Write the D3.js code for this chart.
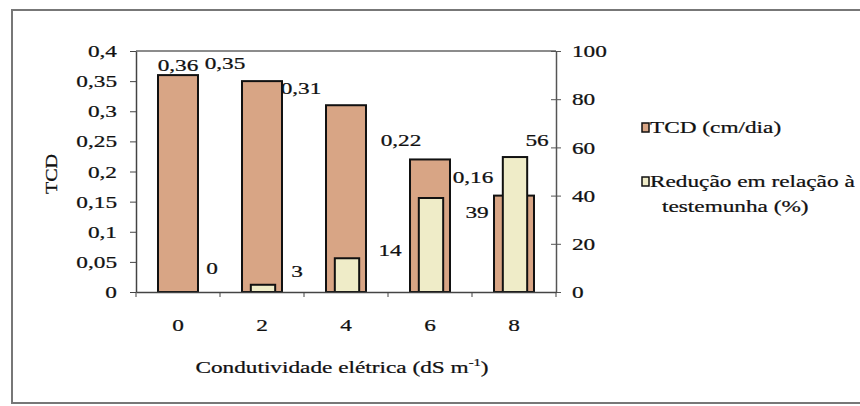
<!DOCTYPE html>
<html><head><meta charset="utf-8">
<script src="https://cdn.jsdelivr.net/npm/d3@7"></script>
<style>body{margin:0;background:#fff}svg{display:block}</style>
</head><body><svg id="c" width="860" height="406"></svg>
<script>
const categories = ["0","2","4","6","8"];
const tcd = [0.36,0.35,0.31,0.22,0.16];
const reducao = [0,3,14,39,56];
const leftTicks = [0,0.05,0.1,0.15,0.2,0.25,0.3,0.35,0.4];
const rightTicks = [0,20,40,60,80,100];
const seriesNames = ["TCD (cm/dia)", "Redução em relação à", "testemunha (%)"];
const xTitle = "Condutividade elétrica (dS m";

// layout constants (label offsets relative to band centre / bar top)
const tcdLabelOff = [[0,-4],[-37,-12],[-45,-11],[-29,-13],[-41,-13]];
const redLabelOff = [[33,-18],[34,-8],[43,-2],[46,20],[22,-11]];

const FONT = "'Liberation Serif'";
const SX = 1.33, FS = 17.5;
const svg = d3.select("#c");
const L = 136, R = 556, T = 51, B = 292;
const fmt = v => d3.format("")(v).replace(".", ",");

svg.append("rect").attr("x",12).attr("y",10).attr("width",860).attr("height",393)
  .attr("fill","#fff").attr("stroke","#777").attr("stroke-width",2);

const x = d3.scaleBand().domain(categories).range([L,R]).padding(0);
const yL = d3.scaleLinear().domain([0,0.4]).range([B,T]);
const yR = d3.scaleLinear().domain([0,100]).range([B,T]);
const bw = x.bandwidth();
const wT = bw*0.476, wR = bw*0.29;

function styleText(sel) {
  return sel.style("font-family", FONT).style("font-size", FS + "px").style("fill", "#111")
    .style("stroke", "#111").style("stroke-width", "0.25px");
}
function txt(px, py, s, anchor) {
  const g = svg.append("g").attr("transform", `translate(${px},${py}) scale(${SX},1)`);
  return styleText(g.append("text").attr("text-anchor", anchor||"middle")).text(s);
}

// plot top line
svg.append("line").attr("x1",L).attr("x2",R).attr("y1",T).attr("y2",T).attr("stroke","#666").attr("stroke-width",1.5);

// bars
svg.selectAll(".bt").data(categories).join("rect")
  .attr("x", c => x(c) + (bw-wT)/2).attr("width", wT)
  .attr("y", (c,i) => yL(tcd[i])).attr("height", (c,i) => B - yL(tcd[i]))
  .attr("fill","#d8a585").attr("stroke","#111").attr("stroke-width",2);
svg.selectAll(".br").data(categories).join("rect")
  .attr("x", c => x(c) + (bw-wR)/2 + 1).attr("width", wR)
  .attr("y", (c,i) => yR(reducao[i])).attr("height", (c,i) => B - yR(reducao[i]))
  .attr("fill","#efecc8").attr("stroke","#111").attr("stroke-width",2);

// left axis
const gl = svg.append("g").attr("transform",`translate(${L},0)`)
  .call(d3.axisLeft(yL).tickValues(leftTicks).tickSize(6).tickSizeOuter(0).tickFormat(fmt));
gl.select(".domain").attr("stroke","#444").attr("stroke-width",1.5);
gl.selectAll("line").attr("stroke","#444");
styleText(gl.selectAll("text").attr("x", -19/SX).attr("transform",`scale(${SX},1)`));

// right axis (cross ticks)
const gr = svg.append("g").attr("transform",`translate(${R},0)`)
  .call(d3.axisRight(yR).tickValues(rightTicks).tickSize(5).tickSizeOuter(0));
gr.select(".domain").attr("stroke","#555").attr("stroke-width",1.5);
gr.selectAll("line").attr("stroke","#555").attr("x1",-5);
styleText(gr.selectAll("text").attr("x", 16/SX).attr("transform",`scale(${SX},1)`));

// bottom axis: labels at centres, ticks at band boundaries
const gb = svg.append("g").attr("transform",`translate(0,${B})`)
  .call(d3.axisBottom(x).tickSize(0).tickPadding(0));
gb.select(".domain").attr("stroke","#444").attr("stroke-width",1.5);
styleText(gb.selectAll("text").attr("y",0).attr("dy",0).attr("transform",`translate(0,39) scale(${SX},1)`));
const bounds = categories.map(c => x(c)).concat([x(categories[categories.length-1]) + bw]);
gb.selectAll(".bt").data(bounds).join("line").attr("x1",d=>d).attr("x2",d=>d)
  .attr("y1",0).attr("y2",5).attr("stroke","#444");

// data labels
categories.forEach((c,i) => {
  const cx = x(c) + bw/2;
  txt(cx + tcdLabelOff[i][0], yL(tcd[i]) + tcdLabelOff[i][1], fmt(tcd[i]));
  txt(cx + redLabelOff[i][0] + 1, yR(reducao[i]) + redLabelOff[i][1], String(reducao[i]));
});

// axis titles
const yt = svg.append("g").attr("transform","translate(57,174) rotate(-90) scale(1.15,1)");
styleText(yt.append("text").attr("text-anchor","middle")).text("TCD");
const xt = txt((L+R)/2 - 4, 373, xTitle);
xt.append("tspan").style("font-size","11px").attr("dy",-7).text("-1");
xt.append("tspan").attr("dy",7).text(")");

// legend
svg.append("rect").attr("x",642).attr("y",123).attr("width",7).attr("height",9)
  .attr("fill","#d8a585").attr("stroke","#111").attr("stroke-width",1.5);
txt(650, 133, seriesNames[0], "start");
svg.append("rect").attr("x",642).attr("y",177).attr("width",7).attr("height",9)
  .attr("fill","#efecc8").attr("stroke","#111").attr("stroke-width",1.5);
txt(650, 187, seriesNames[1], "start");
txt(662, 212, seriesNames[2], "start");
</script></body></html>
